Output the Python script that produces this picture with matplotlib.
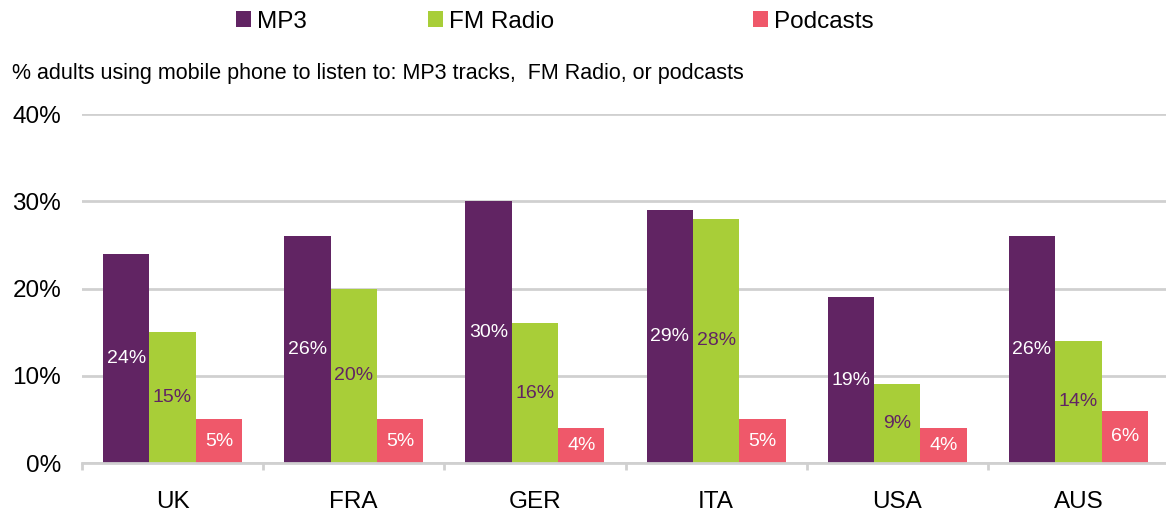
import numpy as np
import matplotlib
matplotlib.use("Agg")
import matplotlib.pyplot as plt

plt.rcParams['font.family'] = ['Liberation Sans', 'DejaVu Sans']

countries = ["UK", "FRA", "GER", "ITA", "USA", "AUS"]
mp3 = [24, 26, 30, 29, 19, 26]
fm_radio = [15, 20, 16, 28, 9, 14]
podcasts = [5, 5, 4, 5, 4, 6]

series = [("MP3", mp3, "#612463", "white"),
          ("FM Radio", fm_radio, "#A8CE38", "#612463"),
          ("Podcasts", podcasts, "#EF586A", "white")]

fig = plt.figure(figsize=(11.66, 5.16), dpi=100)
ax = fig.add_axes([0.0703, 0.1027, 0.9323, 0.6763])

x = np.arange(len(countries))
w = 0.256
handles = []
for i, (name, vals, col, lblcol) in enumerate(series):
    bars = ax.bar(x + (i - 1) * w, vals, w, color=col, label=name, zorder=3)
    handles.append(bars)
    for b, v in zip(bars, vals):
        ax.text(b.get_x() + b.get_width() / 2, v / 2, f"{v}%", ha="center", va="center",
                color=lblcol, fontsize=14, zorder=4)

ax.set_ylim(0, 40)
ax.set_xlim(-0.5, len(countries) - 0.5)
ax.set_yticks([0, 10, 20, 30, 40])
ax.set_yticklabels([f"{t}%" for t in [0, 10, 20, 30, 40]], fontsize=17.5)
ax.tick_params(axis="y", length=0, pad=15)
ax.grid(axis="y", color="#d0d0d0", linewidth=2, zorder=0)

ax.set_xticks(x)
ax.set_xticklabels(countries, fontsize=17.5)
ax.set_xticks(np.arange(len(countries) + 1) - 0.5, minor=True)
ax.tick_params(axis="x", which="major", length=0, pad=20)
ax.tick_params(axis="x", which="minor", length=5, width=2, color="#d0d0d0")

for s in ["top", "right", "left"]:
    ax.spines[s].set_visible(False)
ax.spines["bottom"].set_color("#d0d0d0")
ax.spines["bottom"].set_linewidth(2)
ax.spines["bottom"].set_zorder(5)

fig.text(0.010, 0.858, "% adults using mobile phone to listen to: MP3 tracks,  FM Radio, or podcasts",
         fontsize=15.5, va="center", ha="left")

# legend entries sit at uneven spots in the original, so one legend each
leg_x = [236, 428, 753]
for h, (name, *_), lx in zip(handles, series, leg_x):
    fig.legend([h], [name], loc="center left", bbox_to_anchor=(lx / 1166, 0.958),
               frameon=False, fontsize=17.5, handlelength=0.6, handleheight=0.6,
               handletextpad=0.25, borderpad=0, borderaxespad=0)

fig.savefig("out.png", dpi=100)
